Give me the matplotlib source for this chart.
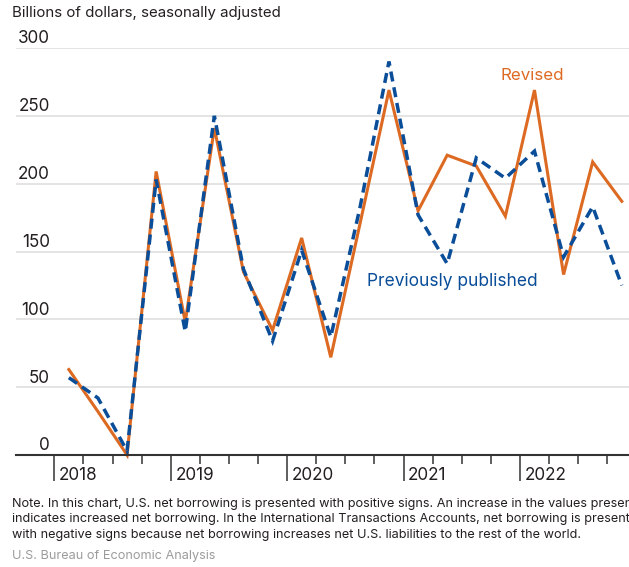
import matplotlib
matplotlib.use("Agg")
import matplotlib.pyplot as plt
import numpy as np

# Quarterly U.S. net borrowing, 2018Q1-2022Q4 (billions of dollars, SA)
years = [2018, 2019, 2020, 2021, 2022]
quarters = [1, 2, 3, 4]
revised = [63, 32, 0, 209, 98, 241, 135, 92, 160, 72, 170, 269,
           180, 221, 213, 176, 269, 133, 216, 187]
previous = [57, 42, 3, 203, 91, 250, 137, 84, 151, 87, 182, 290,
            177, 141, 219, 204, 224, 146, 183, 125]
y_ticks = [0, 50, 100, 150, 200, 250, 300]

title = "Billions of dollars, seasonally adjusted"
note = ("Note. In this chart, U.S. net borrowing is presented with positive signs. "
        "An increase in the values presented\n"
        "indicates increased net borrowing. In the International Transactions Accounts, "
        "net borrowing is presented\n"
        "with negative signs because net borrowing increases net U.S. liabilities "
        "to the rest of the world.")
source = "U.S. Bureau of Economic Analysis"

ORANGE = "#DD6A22"
BLUE = "#0A4D98"
TEXT = "#231F20"
GRID = "#DCDCDC"
AXIS = "#333333"

plt.rcParams["font.family"] = ["Inter", "DejaVu Sans"]

# quarter midpoints in fractional years
x = np.array([y + (q - 0.5) / 4 for y in years for q in quarters])

fig = plt.figure(figsize=(6.29, 5.67), dpi=100)
ax = fig.add_axes([16 / 629, 112 / 567, 613 / 629, 407 / 567])
ax.set_xlim(2017.671, 2022.937)
ax.set_ylim(0, 300)

for s in ("top", "right", "left"):
    ax.spines[s].set_visible(False)
ax.spines["bottom"].set_color(AXIS)
ax.spines["bottom"].set_linewidth(1.5)
ax.spines["bottom"].set_zorder(4)

# horizontal gridlines
for v in y_ticks[1:]:
    ax.axhline(v, color=GRID, lw=1.1, zorder=0)
ax.set_yticks([])

# y labels sit above their gridlines, right-aligned
for v in y_ticks:
    ax.annotate(str(v), xy=(50, v), xycoords=("figure pixels", "data"),
                xytext=(0, 6.5), textcoords="offset points",
                ha="right", va="center", fontsize=12.3, color=TEXT)

# x ticks: long ticks at year starts, short ticks at quarter boundaries
ax.set_xticks(years)
ax.set_xticklabels([])
minor = [y + q / 4 for y in years for q in (1, 2, 3)]
ax.set_xticks(minor, minor=True)
ax.tick_params(axis="x", which="major", length=18.5, width=1.1, color=AXIS)
ax.tick_params(axis="x", which="minor", length=6.5, width=1.1, color=AXIS)
for y in years:
    ax.annotate(str(y), xy=(y, 0), xycoords=("data", "axes fraction"),
                xytext=(3.3, -14.4), textcoords="offset points",
                ha="left", va="center", fontsize=12.3, color=TEXT)

ax.plot(x, revised, color=ORANGE, lw=2.2, solid_joinstyle="miter",
        zorder=2, clip_on=False)
ax.plot(x, previous, color=BLUE, lw=2.5, linestyle=(0, (2.9, 1.7)),
        dash_joinstyle="miter", zorder=3, clip_on=False)

ax.annotate("Revised", xy=(532.5, 567 - 75), xycoords="figure pixels",
            ha="center", va="center", fontsize=12.2, color=ORANGE)
ax.annotate("Previously published", xy=(452.5, 567 - 282), xycoords="figure pixels",
            ha="center", va="center", fontsize=12.5, color=BLUE)

fig.text(12 / 629, 1 - 13 / 567, title, ha="left", va="center",
         fontsize=10.8, color=TEXT)
fig.text(11.7 / 629, 1 - 497.5 / 567, note, ha="left", va="top",
         fontsize=9.15, color=TEXT, linespacing=1.4)
fig.text(11.7 / 629, 1 - 556 / 567, source, ha="left", va="center",
         fontsize=9.15, color="#9C9C9C")

fig.savefig("out.png", dpi=100)
